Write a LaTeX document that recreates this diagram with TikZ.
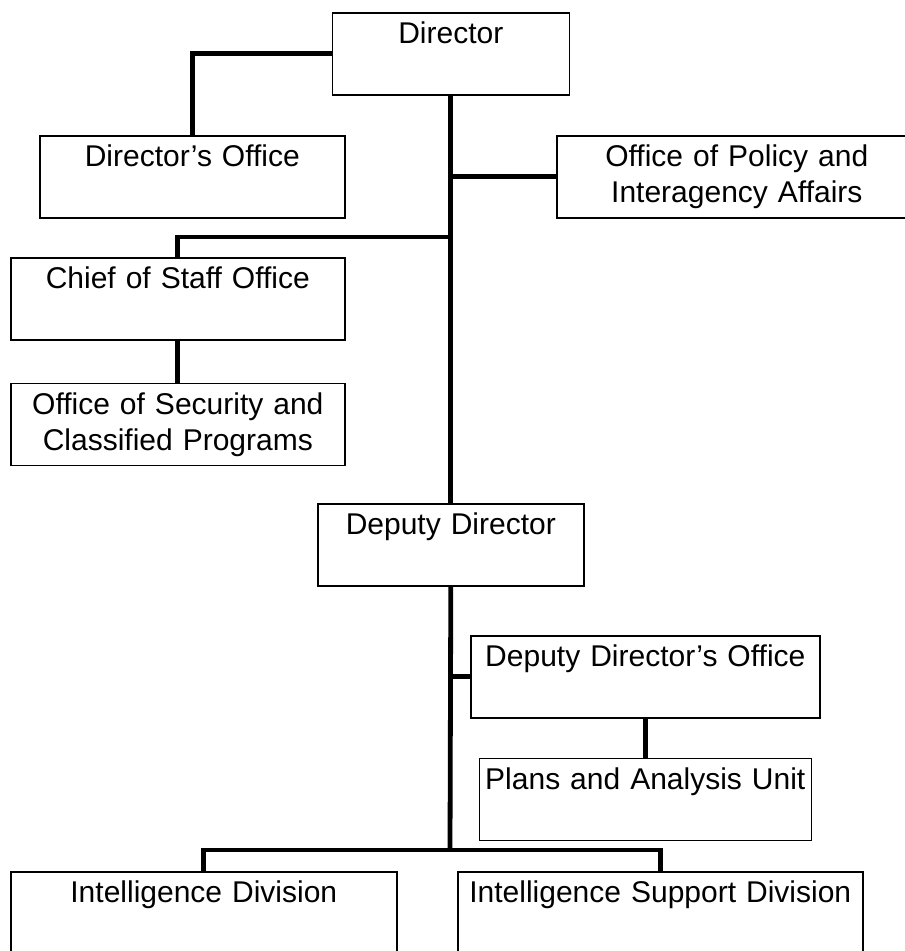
\documentclass[tikz,border=0pt]{standalone}
\usepackage{fontspec}
\setmainfont{Liberation Sans}
\usetikzlibrary{positioning}
\newcommand{\unitfont}{\fontsize{30}{36}\selectfont}
\tikzset{
	unit/.style={
		draw,
		line width=1.6pt,
		text width=#1,
		align=center,
		inner xsep=0pt,
		inner ysep=10pt,
		text height=21pt,
		text depth=41pt,
		anchor=north west,
		font=\unitfont
	},
	conn/.style={line width=4.8pt, line join=miter},
}

\begin{document}
\begin{tikzpicture}[x=1pt, y=-1pt]
		\useasboundingbox (0,0) rectangle (905,951);
		
		% ------------------- Top: Director and its offices -------------------
		\node[unit=237pt] (dir) at (331.5,12) {Director};
		\node[unit=305pt] (dOff) at (39,135) {Director’s Office};
		\node[unit=360pt] (pol) at (556,135) {Office of Policy and\\Interagency Affairs};
		
		\draw[conn] (dir.west) -| (dOff.north);
		\draw[conn] (dir.south |- pol.west) -- (pol.west);
		
		% ------------------- Chief of Staff branch -------------------
		\coordinate (jCos) at (450,237);
		\node[unit=334pt] (cos) at (10,257) {Chief of Staff Office};
		\node[unit=334pt, anchor=north] (sec) [below=42pt of cos] {Office of Security and\\Classified Programs};
		
		\draw[conn] (jCos) -| (cos.north);
		\draw[conn] (cos.south) -- (sec.north);
		
		% ------------------- Deputy Director -------------------
		\node[unit=266pt] (dep) at (317,503) {Deputy Director};
		\draw[conn] (dir.south) -- (dep.north);
		
		\node[unit=349pt] (dOffD) at (470,635) {Deputy Director’s Office};
		\node[unit=332pt, anchor=north] (pau) [below=39pt of dOffD] {Plans and Analysis Unit};
		
		\draw[conn] (dep.south |- dOffD.west) -- (dOffD.west);
		\draw[conn] (dOffD.south) -- (pau.north);
		
		% ------------------- Divisions (cut at the bottom) -------------------
		\coordinate (jDiv) at (450,850);
		\node[unit=386pt] (intD) at (10,871) {Intelligence Division};
		\node[unit=405pt] (supD) at (457,871) {Intelligence Support Division};
		
		\draw[conn] (dep.south) -- (jDiv);
		\draw[conn] (intD.north) |- (jDiv) -| (supD.north);
		
	\end{tikzpicture}
\end{document}
